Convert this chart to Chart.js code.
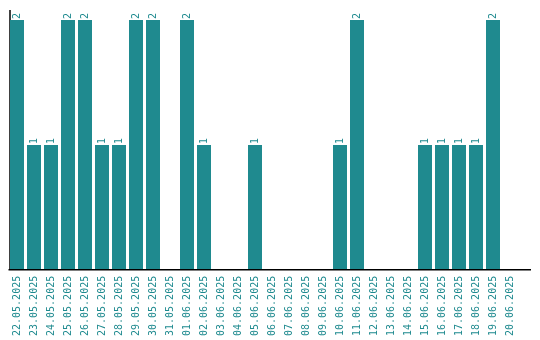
<!DOCTYPE html>
<html>
<head>
<meta charset="utf-8">
<script src="https://cdn.jsdelivr.net/npm/chart.js@4/dist/chart.umd.min.js"></script>
<style>
  body { margin: 0; background: #fff; }
  canvas { display: block; }
</style>
</head>
<body>
<canvas id="grafica" width="540" height="340"></canvas>
<script>
// Datos
const fechas = [
  "22.05.2025", "23.05.2025", "24.05.2025", "25.05.2025", "26.05.2025",
  "27.05.2025", "28.05.2025", "29.05.2025", "30.05.2025", "31.05.2025",
  "01.06.2025", "02.06.2025", "03.06.2025", "04.06.2025", "05.06.2025",
  "06.06.2025", "07.06.2025", "08.06.2025", "09.06.2025", "10.06.2025",
  "11.06.2025", "12.06.2025", "13.06.2025", "14.06.2025", "15.06.2025",
  "16.06.2025", "17.06.2025", "18.06.2025", "19.06.2025", "20.06.2025"
];
const cantidades = [
  2, 1, 1, 2, 2, 1, 1, 2, 2, 0,
  2, 1, 0, 0, 1, 0, 0, 0, 0, 1,
  2, 0, 0, 0, 1, 1, 1, 1, 2, 0
];

const color = "#1f8a8f";
const fuente = { family: "DejaVu Sans Mono", size: 10 };

// Ejes y etiquetas de valor
const extras = {
  id: "extras",
  beforeDatasetsDraw(chart) {
    const { ctx, chartArea } = chart;
    ctx.save();
    ctx.strokeStyle = "#000";
    ctx.lineWidth = 1.5;
    ctx.beginPath();
    ctx.moveTo(chartArea.left + 1.5, chartArea.top);
    ctx.lineTo(chartArea.left + 1.5, chartArea.bottom);
    ctx.stroke();
    ctx.restore();
  },
  afterDatasetsDraw(chart) {
    const { ctx, chartArea } = chart;
    ctx.save();
    ctx.strokeStyle = "#000";
    ctx.lineWidth = 1.5;
    ctx.beginPath();
    ctx.moveTo(chartArea.left, chartArea.bottom);
    ctx.lineTo(chartArea.right + 12.5, chartArea.bottom);
    ctx.stroke();

    ctx.fillStyle = color;
    ctx.font = fuente.size + "px " + fuente.family;
    ctx.textAlign = "left";
    ctx.textBaseline = "middle";
    chart.getDatasetMeta(0).data.forEach((bar, i) => {
      if (!cantidades[i]) return;
      ctx.save();
      ctx.translate(bar.x, bar.y - 1);
      ctx.rotate(-Math.PI / 2);
      ctx.fillText(String(cantidades[i]), 0, 0);
      ctx.restore();
    });
    ctx.restore();
  }
};

new Chart(document.getElementById("grafica").getContext("2d"), {
  type: "bar",
  data: {
    labels: fechas,
    datasets: [{
      data: cantidades,
      backgroundColor: color,
      barPercentage: 1,
      categoryPercentage: 14 / 17
    }]
  },
  options: {
    responsive: false,
    devicePixelRatio: 1,
    animation: false,
    layout: { padding: { left: 8.5, right: 21.5, top: 10, bottom: -2 } },
    plugins: { legend: { display: false }, tooltip: { enabled: false } },
    scales: {
      x: {
        grid: { display: false, drawTicks: false },
        border: { display: false },
        ticks: {
          color: color,
          font: fuente,
          minRotation: 90,
          maxRotation: 90,
          autoSkip: false,
          padding: 6
        }
      },
      y: {
        display: false,
        min: 0,
        max: 2.08
      }
    }
  },
  plugins: [extras]
});
</script>
</body>
</html>
